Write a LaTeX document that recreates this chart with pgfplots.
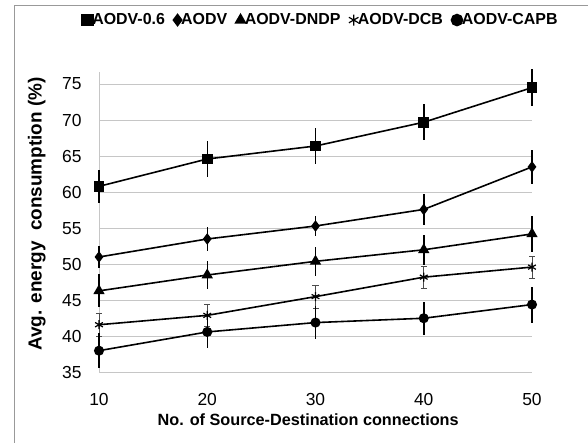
\documentclass[border=0pt]{standalone}
\usepackage{fontspec}
\setmainfont{Liberation Sans}
\usepackage{pgfplots}
\pgfplotsset{compat=1.18}
\begin{document}
\begin{tikzpicture}
\useasboundingbox (0,0) rectangle (588bp,443bp);
\draw[gray!80, line width=0.8bp] (14bp,0) -- (14bp,438bp) -- (588bp,438bp);
\begin{axis}[
  at={(99bp,70.7bp)}, anchor=south west,
  scale only axis, width=433bp, height=300.3bp,
  xmin=10, xmax=50, ymin=35, ymax=76.67,
  xtick={10,20,30,40,50}, ytick={35,40,...,75},
  ymajorgrids, major grid style={gray!45, line width=0.6bp},
  axis line style={gray!45, line width=0.6bp},
  axis x line*=bottom, axis y line*=left,
  major tick length=0pt,
  tick label style={font=\fontsize{17.5}{19}\selectfont},
  /pgf/number format/assume math mode=true,
  xticklabel style={yshift=-18bp},
  yticklabel style={xshift=-14bp},
  xlabel={\bfseries No. of Source-Destination connections},
  ylabel={\bfseries Avg. energy\ \ consumption (\%)},
  xlabel style={font=\fontsize{16.3}{18}\selectfont, at={(axis description cs:0.483,-0.159)}, anchor=center},
  ylabel style={font=\fontsize{19}{21}\selectfont, at={(axis description cs:-0.144,0.527)}, anchor=center},
  legend style={at={(0.5115,1.173)}, anchor=center, draw=none, fill=none,
    legend columns=-1, font=\fontsize{16}{18}\selectfont\bfseries,
    /tikz/every even column/.append style={column sep=7bp},
    /tikz/every odd column/.append style={column sep=-2bp}, inner sep=0pt,
    nodes={inner sep=1.5bp}},
  legend image code/.code={\draw[#1, mark size=5.5bp] plot coordinates {(0bp,0bp)};},
  error bars/y dir=both, error bars/y explicit,
  error bars/error mark=none,
  error bars/error bar style={line width=1.5bp, black},
  clip=false,
]
\addplot[black, line width=1.6bp, mark=square*, mark size=4.5bp] table[y error=e] {
x y e
10 60.8 2.3
20 64.6 2.45
30 66.4 2.5
40 69.7 2.5
50 74.5 2.6
};
\addlegendentry{AODV-0.6}
\addplot[black, line width=1.6bp, mark=diamond*, mark size=4.5bp] table[y error=e] {
x y e
10 51.0 1.5
20 53.5 1.7
30 55.3 1.4
40 57.6 2.1
50 63.5 2.4
};
\addlegendentry{AODV}
\addplot[black, line width=1.6bp, mark=triangle*, mark size=5bp] table[y error=e] {
x y e
10 46.3 2.3
20 48.5 2.0
30 50.4 2.0
40 52.0 2.1
50 54.2 2.5
};
\addlegendentry{AODV-DNDP}
\addplot[black, line width=1.6bp, mark=asterisk, mark size=4.5bp, mark options={line width=1.2bp},
  error bars/error bar style={line width=0.6bp, black!70},
  error bars/error mark=-, error bars/error mark options={rotate=90, mark size=3bp, line width=0.6bp, black!70}] table[y error=e] {
x y e
10 41.6 1.6
20 42.9 1.5
30 45.5 1.6
40 48.2 1.5
50 49.6 1.5
};
\addlegendentry{AODV-DCB}
\addplot[black, line width=1.6bp, mark=*, mark size=4.2bp] table[y error=e] {
x y e
10 38.0 2.4
20 40.6 2.2
30 41.9 2.3
40 42.5 2.3
50 44.4 2.5
};
\addlegendentry{AODV-CAPB}
\end{axis}
\end{tikzpicture}
\end{document}
